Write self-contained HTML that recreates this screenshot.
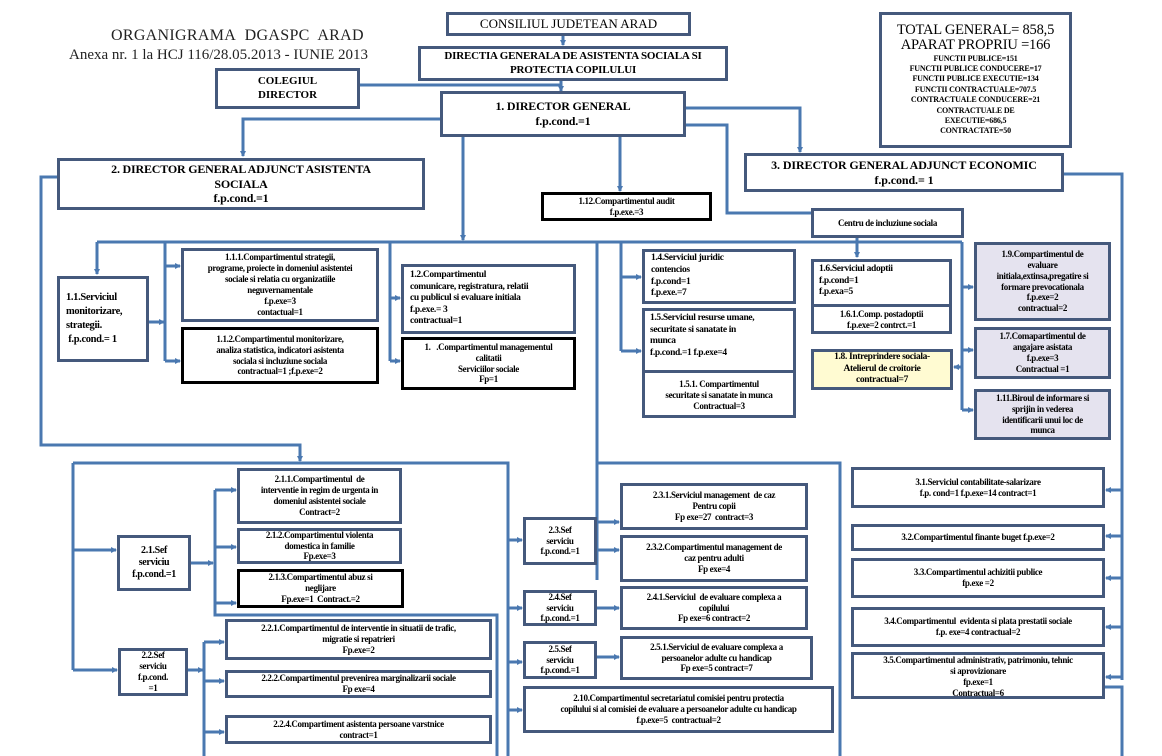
<!DOCTYPE html>
<html><head><meta charset="utf-8"><style>
body{margin:0;width:1162px;height:756px;background:#fff;position:relative;overflow:hidden;font-family:"Liberation Serif",serif}
.b{position:absolute;box-sizing:border-box;border:3px solid #45597c;background:#fff;display:flex;flex-direction:column;justify-content:center;align-items:center;text-align:center;font-weight:bold;font-size:9px;line-height:1.22;letter-spacing:-0.35px;color:#000;overflow:hidden}
.k{border-color:#000}
.l{align-items:flex-start;text-align:left;padding-left:6px}
svg{position:absolute;left:0;top:0}
.t{position:absolute;white-space:nowrap;color:#222}
</style></head><body>
<svg width="1162" height="756">
<defs><marker id="a" markerWidth="6" markerHeight="6" refX="5" refY="3" orient="auto" markerUnits="userSpaceOnUse"><path d="M0,0 L6,3 L0,6 z" fill="#4a78b0"/></marker></defs>
<g stroke="#4a78b0" stroke-width="3" fill="none">
<path d="M563 35 V45" marker-end="url(#a)"/>
<path d="M561 80 V91" marker-end="url(#a)"/>
<path d="M360 85 H561"/>
<path d="M440 119 H243 V156" marker-end="url(#a)"/>
<path d="M463 137 V240" marker-end="url(#a)"/>
<path d="M620 137 V191" marker-end="url(#a)"/>
<path d="M686 108 H800 V152" marker-end="url(#a)"/>
<path d="M686 125 H727 V213 H811"/>
<path d="M1064 174 H1122 V680"/>
<path d="M57 177 H41 V445 H300 V461" marker-end="url(#a)"/>
<path d="M97 242 H962"/>
<path d="M97 242 V274" marker-end="url(#a)"/>
<path d="M165 242 V361"/>
<path d="M149 322 H164" marker-end="url(#a)"/>
<path d="M165 266 H180" marker-end="url(#a)"/>
<path d="M165 361 H180" marker-end="url(#a)"/>
<path d="M390 242 V361"/>
<path d="M390 298 H400" marker-end="url(#a)"/>
<path d="M390 361 H400" marker-end="url(#a)"/>
<path d="M621 242 V351"/>
<path d="M621 277 H641" marker-end="url(#a)"/>
<path d="M621 351 H641" marker-end="url(#a)"/>
<path d="M597 242 V580"/>
<path d="M857 238 V257" marker-end="url(#a)"/>
<path d="M962 242 V410"/>
<path d="M962 287 H973" marker-end="url(#a)"/>
<path d="M962 350 H973" marker-end="url(#a)"/>
<path d="M962 410 H973" marker-end="url(#a)"/>
<path d="M962 367 H954" marker-end="url(#a)"/>
<path d="M1122 490 H1106" marker-end="url(#a)"/>
<path d="M1122 536 H1106" marker-end="url(#a)"/>
<path d="M1122 578 H1106" marker-end="url(#a)"/>
<path d="M1122 627 H1106" marker-end="url(#a)"/>
<path d="M1122 677 H1106" marker-end="url(#a)"/>
<path d="M1105 687 H1122 V756"/>
<path d="M73 463 H508 V756"/>
<path d="M73 463 V670"/>
<path d="M73 550 H116" marker-end="url(#a)"/>
<path d="M73 670 H117" marker-end="url(#a)"/>
<path d="M191 563 H213" marker-end="url(#a)"/>
<path d="M215 490 V615 H497 V756"/>
<path d="M215 490 H236" marker-end="url(#a)"/>
<path d="M215 547 H236" marker-end="url(#a)"/>
<path d="M215 603 H236" marker-end="url(#a)"/>
<path d="M188 670 H203" marker-end="url(#a)"/>
<path d="M204 642 V756"/>
<path d="M204 642 H224" marker-end="url(#a)"/>
<path d="M204 681 H224" marker-end="url(#a)"/>
<path d="M204 732 H224" marker-end="url(#a)"/>
<path d="M508 540 H522" marker-end="url(#a)"/>
<path d="M508 608 H522" marker-end="url(#a)"/>
<path d="M508 662 H522" marker-end="url(#a)"/>
<path d="M508 710 H522" marker-end="url(#a)"/>
<path d="M597 463 H840 V756"/>
<path d="M597 522 H619" marker-end="url(#a)"/>
<path d="M597 550 H619" marker-end="url(#a)"/>
<path d="M597 608 H619" marker-end="url(#a)"/>
<path d="M597 657 H619" marker-end="url(#a)"/>
</g></svg>

<div class="t" style="left:111px;top:27px;font-size:16px;letter-spacing:0.3px">ORGANIGRAMA&nbsp; DGASPC&nbsp; ARAD</div>
<div class="t" style="left:69px;top:47px;font-size:15px">Anexa nr. 1 la HCJ 116/28.05.2013 - IUNIE 2013</div>

<div class="b" style="left:446px;top:12px;width:245px;height:24px;font-weight:normal;font-size:13px;letter-spacing:0">CONSILIUL JUDETEAN ARAD</div>
<div class="b" style="left:418px;top:46px;width:310px;height:35px;font-size:11px;letter-spacing:-0.2px">DIRECTIA GENERALA DE ASISTENTA SOCIALA SI<br>PROTECTIA COPILULUI</div>
<div class="b" style="left:215px;top:68px;width:145px;height:41px;font-size:11px;letter-spacing:0">COLEGIUL<br>DIRECTOR</div>
<div class="b" style="left:440px;top:91px;width:246px;height:46px;font-size:12px;letter-spacing:-0.2px">1. DIRECTOR GENERAL<br>f.p.cond.=1</div>
<div class="b" style="left:879px;top:12px;width:193px;height:136px;font-size:8px;line-height:1.3;letter-spacing:-0.2px"><span style="font-weight:normal;font-size:14.5px;line-height:1.05">TOTAL GENERAL= 858,5<br>APARAT PROPRIU =166</span>FUNCTII PUBLICE=151<br>FUNCTII PUBLICE CONDUCERE=17<br>FUNCTII PUBLICE EXECUTIE=134<br>FUNCTII CONTRACTUALE=707.5<br>CONTRACTUALE CONDUCERE=21<br>CONTRACTUALE DE<br>EXECUTIE=686,5<br>CONTRACTATE=50</div>
<div class="b" style="left:57px;top:158px;width:368px;height:52px;font-size:12px;letter-spacing:-0.2px">2. DIRECTOR GENERAL ADJUNCT ASISTENTA<br>SOCIALA<br>f.p.cond.=1</div>
<div class="b" style="left:744px;top:153px;width:320px;height:39px;font-size:12px;letter-spacing:-0.1px">3. DIRECTOR GENERAL ADJUNCT ECONOMIC<br>f.p.cond.= 1</div>
<div class="b k" style="left:541px;top:192px;width:171px;height:29px">1.12.Compartimentul audit<br>f.p.exe.=3</div>
<div class="b" style="left:811px;top:208px;width:153px;height:30px">Centru de incluziune sociala</div>

<div class="b l" style="left:57px;top:276px;width:92px;height:86px;font-size:10.5px;line-height:1.35">1.1.Serviciul<br>monitorizare,<br>strategii.<br>&nbsp;f.p.cond.= 1</div>
<div class="b" style="left:181px;top:248px;width:198px;height:74px">1.1.1.Compartimentul strategii,<br>programe, proiecte in domeniul asistentei<br>sociale si relatia cu organizatiile<br>neguvernamentale<br>f.p.exe=3<br>contactual=1</div>
<div class="b k" style="left:181px;top:327px;width:198px;height:57px">1.1.2.Compartimentul monitorizare,<br>analiza statistica, indicatori asistenta<br>sociala si incluziune sociala<br>contractual=1 ;f.p.exe=2</div>
<div class="b l" style="left:401px;top:264px;width:175px;height:70px;font-size:9.5px">1.2.Compartimentul<br>comunicare, registratura, relatii<br>cu publicul si evaluare initiala<br>f.p.exe.= 3<br>contractual=1</div>
<div class="b k" style="left:401px;top:337px;width:175px;height:53px">1.&nbsp;&nbsp; .Compartimentul managementul<br>calitatii<br>Serviciilor sociale<br>Fp=1</div>
<div class="b l" style="left:642px;top:249px;width:154px;height:55px;font-size:9.5px">1.4.Serviciul juridic<br>contencios<br>f.p.cond=1<br>f.p.exe.=7</div>
<div class="b" style="left:642px;top:308px;width:154px;height:110px;justify-content:flex-start;align-items:stretch;padding:0">
<div style="text-align:left;padding:2px 5px;font-size:9.5px;height:55px;border-bottom:3px solid #45597c">1.5.Serviciul resurse umane,<br>securitate si sanatate in<br>munca<br>f.p.cond.=1 f.p.exe=4</div>
<div style="padding-top:6px">1.5.1. Compartimentul<br>securitate si sanatate in munca<br>Contractual=3</div></div>
<div class="b" style="left:811px;top:259px;width:141px;height:75px;justify-content:flex-start;align-items:stretch;padding:0">
<div style="text-align:left;padding:2px 5px;font-size:9.5px;height:42px;border-bottom:3px solid #45597c">1.6.Serviciul adoptii<br>f.p.cond=1<br>f.p.exa=5</div>
<div style="padding-top:2px">1.6.1.Comp. postadoptii<br>f.p.exe=2 contrct.=1</div></div>
<div class="b" style="left:811px;top:349px;width:142px;height:41px;background:#fffbd2;font-size:9.5px">1.8. Intreprindere sociala-<br>Atelierul de croitorie<br>contractual=7</div>
<div class="b" style="left:974px;top:242px;width:137px;height:79px;background:#e5e3ef">1.9.Compartimentul de<br>evaluare<br>initiala,extinsa,pregatire si<br>formare prevocationala<br>f.p.exe=2<br>contractual=2</div>
<div class="b" style="left:974px;top:327px;width:137px;height:52px;background:#e5e3ef">1.7.Comapartimentul de<br>angajare asistata<br>f.p.exe=3<br>Contractual =1</div>
<div class="b" style="left:974px;top:389px;width:137px;height:51px;background:#e5e3ef">1.11.Biroul de informare si<br>sprijin in vederea<br>identificarii unui loc de<br>munca</div>

<div class="b" style="left:117px;top:535px;width:74px;height:56px;font-size:10px">2.1.Sef<br>serviciu<br>f.p.cond.=1</div>
<div class="b" style="left:237px;top:468px;width:165px;height:56px">2.1.1.Compartimentul&nbsp; de<br>interventie in regim de urgenta in<br>domeniul asistentei sociale<br>Contract=2</div>
<div class="b" style="left:237px;top:528px;width:165px;height:36px">2.1.2.Compartimentul violenta<br>domestica in familie<br>Fp.exe=3</div>
<div class="b k" style="left:237px;top:569px;width:167px;height:39px">2.1.3.Compartimentul abuz si<br>neglijare<br>Fp.exe=1&nbsp; Contract.=2</div>
<div class="b" style="left:118px;top:648px;width:70px;height:48px">2.2.Sef<br>serviciu<br>f.p.cond.<br>=1</div>
<div class="b" style="left:225px;top:619px;width:267px;height:41px">2.2.1.Compartimentul de interventie in situatii de trafic,<br>migratie si repatrieri<br>Fp.exe=2</div>
<div class="b" style="left:225px;top:670px;width:267px;height:28px">2.2.2.Compartimentul prevenirea marginalizarii sociale<br>Fp exe=4</div>
<div class="b" style="left:225px;top:715px;width:267px;height:29px">2.2.4.Compartiment asistenta persoane varstnice<br>contract=1</div>

<div class="b" style="left:523px;top:517px;width:74px;height:48px">2.3.Sef<br>serviciu<br>f.p.cond.=1</div>
<div class="b" style="left:620px;top:483px;width:188px;height:47px">2.3.1.Serviciul management&nbsp; de caz<br>Pentru copii<br>Fp exe=27&nbsp; contract=3</div>
<div class="b" style="left:620px;top:535px;width:188px;height:47px">2.3.2.Compartimentul management de<br>caz pentru adulti<br>Fp exe=4</div>
<div class="b" style="left:523px;top:590px;width:74px;height:36px">2.4.Sef<br>serviciu<br>f.p.cond.=1</div>
<div class="b" style="left:620px;top:586px;width:188px;height:44px">2.4.1.Serviciul&nbsp; de evaluare complexa a<br>copilului<br>Fp exe=6 contract=2</div>
<div class="b" style="left:523px;top:641px;width:74px;height:38px">2.5.Sef<br>serviciu<br>f.p.cond.=1</div>
<div class="b" style="left:620px;top:636px;width:193px;height:44px">2.5.1.Serviciul de evaluare complexa a<br>persoanelor adulte cu handicap<br>Fp exe=5 contract=7</div>
<div class="b" style="left:523px;top:686px;width:311px;height:47px">2.10.Compartimentul secretariatul comisiei pentru protectia<br>copilului si al comisiei de evaluare a persoanelor adulte cu handicap<br>f.p.exe=5&nbsp; contractual=2</div>

<div class="b" style="left:851px;top:467px;width:254px;height:41px">3.1.Serviciul contabilitate-salarizare<br>f.p. cond=1 f.p.exe=14 contract=1</div>
<div class="b" style="left:851px;top:524px;width:254px;height:27px">3.2.Compartimentul finante buget f.p.exe=2</div>
<div class="b" style="left:851px;top:558px;width:254px;height:40px">3.3.Compartimentul achizitii publice<br>fp.exe =2</div>
<div class="b" style="left:851px;top:607px;width:254px;height:40px">3.4.Compartimentul&nbsp; evidenta si plata prestatii sociale<br>f.p. exe=4 contractual=2</div>
<div class="b" style="left:851px;top:652px;width:254px;height:47px;justify-content:flex-start">3.5.Compartimentul administrativ, patrimoniu, tehnic<br>si aprovizionare<br>fp.exe=1<br>Contractual=6</div>
</body></html>
